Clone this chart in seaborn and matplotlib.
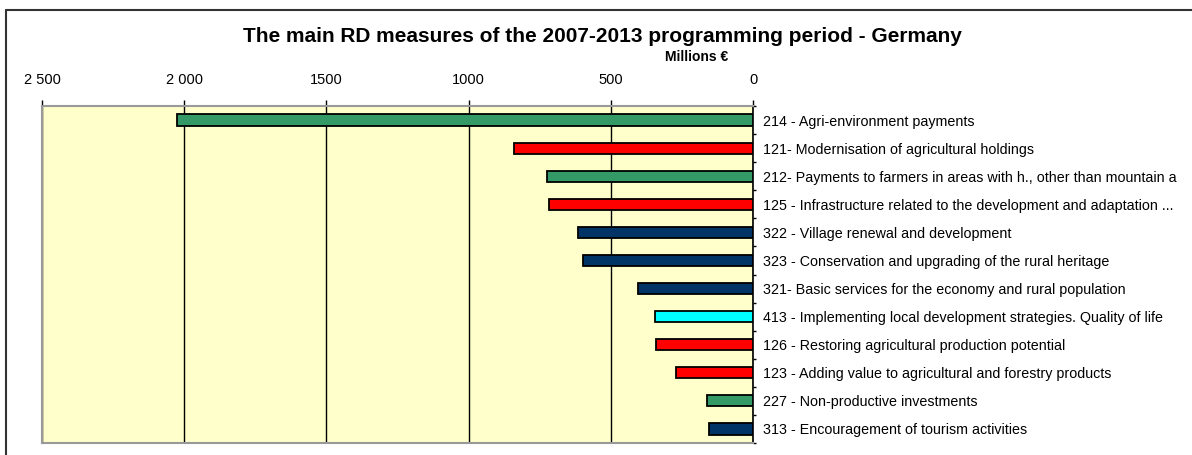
import matplotlib
matplotlib.use("Agg")
import matplotlib.pyplot as plt
import seaborn as sns
from matplotlib.lines import Line2D

measures = [
    "214 - Agri-environment payments",
    "121- Modernisation of agricultural holdings",
    "212- Payments to farmers in areas with h., other than mountain a",
    "125 - Infrastructure related to the development and adaptation ...",
    "322 - Village renewal and development",
    "323 - Conservation and upgrading of the rural heritage",
    "321- Basic services for the economy and rural population",
    "413 - Implementing local development strategies. Quality of life",
    "126 - Restoring agricultural production potential",
    "123 - Adding value to agricultural and forestry products",
    "227 - Non-productive investments",
    "313 - Encouragement of tourism activities",
]
amounts = [2024, 839, 724, 717, 615, 597, 405, 346, 340, 270, 161, 154]
bar_colors = ["#339966", "#FF0000", "#339966", "#FF0000", "#003366", "#003366",
              "#003366", "#00FFFF", "#FF0000", "#FF0000", "#339966", "#003366"]
tick_vals = [2500, 2000, 1500, 1000, 500, 0]
tick_text = ["2 500", "2 000", "1500", "1000", "500", "0"]

sns.set_style("white")
plt.rcParams['font.family'] = ['Liberation Sans', 'DejaVu Sans']
plt.rcParams['text.color'] = 'black'
plt.rcParams['xtick.color'] = 'black'
plt.rcParams['ytick.color'] = 'black'

fig = plt.figure(figsize=(11.92, 4.55), dpi=100)
ax = fig.add_axes([42 / 1192, 1 - 443 / 455, (753 - 42) / 1192, (443 - 106) / 455])
ax.set_facecolor("#FFFFCC")

sns.barplot(x=amounts, y=measures, hue=measures, palette=bar_colors, legend=False,
            orient="h", width=0.4, edgecolor="black", linewidth=1.3, saturation=1,
            ax=ax, zorder=3)

ax.set_xlim(2500, 0)
ax.set_ylim(len(measures) - 0.5, -0.5)
ax.set_xticks(tick_vals)
ax.set_xticklabels(tick_text, fontsize=10.5)
ax.xaxis.tick_top()
ax.xaxis.set_label_position("top")
ax.tick_params(axis="x", direction="out", length=4.5, width=1, color="black", pad=9)
ax.grid(axis="x", color="black", linewidth=1, zorder=1)
ax.set_axisbelow(True)

ax.yaxis.tick_right()
ax.set_yticks(range(len(measures)))
ax.set_yticklabels(measures, fontsize=10.3)
ax.set_yticks([i + 0.5 for i in range(-1, len(measures))], minor=True)
ax.tick_params(axis="y", which="major", length=0, pad=7)
ax.tick_params(axis="y", which="minor", direction="out", length=2.5, width=1, color="black")
ax.set_xlabel("")
ax.set_ylabel("")

for side in ["left", "top", "bottom"]:
    ax.spines[side].set_color("#999999")
    ax.spines[side].set_linewidth(1.5)
ax.spines["right"].set_color("black")
ax.spines["right"].set_linewidth(1.2)

fig.text(602 / 1192, 1 - 37 / 455, "The main RD measures of the 2007-2013 programming period - Germany",
         ha="center", va="center", fontsize=15, fontweight="bold")
fig.text(697 / 1192, 1 - 57 / 455, "Millions €", ha="center", va="center",
         fontsize=10, fontweight="bold")

# chart frame (top and left edges visible)
fig.add_artist(Line2D([6 / 1192, 6 / 1192], [0, 1 - 10 / 455], color="#333333", linewidth=1.5,
                      transform=fig.transFigure))
fig.add_artist(Line2D([6 / 1192, 1], [1 - 10 / 455, 1 - 10 / 455], color="#333333", linewidth=1.5,
                      transform=fig.transFigure))

fig.savefig("out.png", dpi=100)
